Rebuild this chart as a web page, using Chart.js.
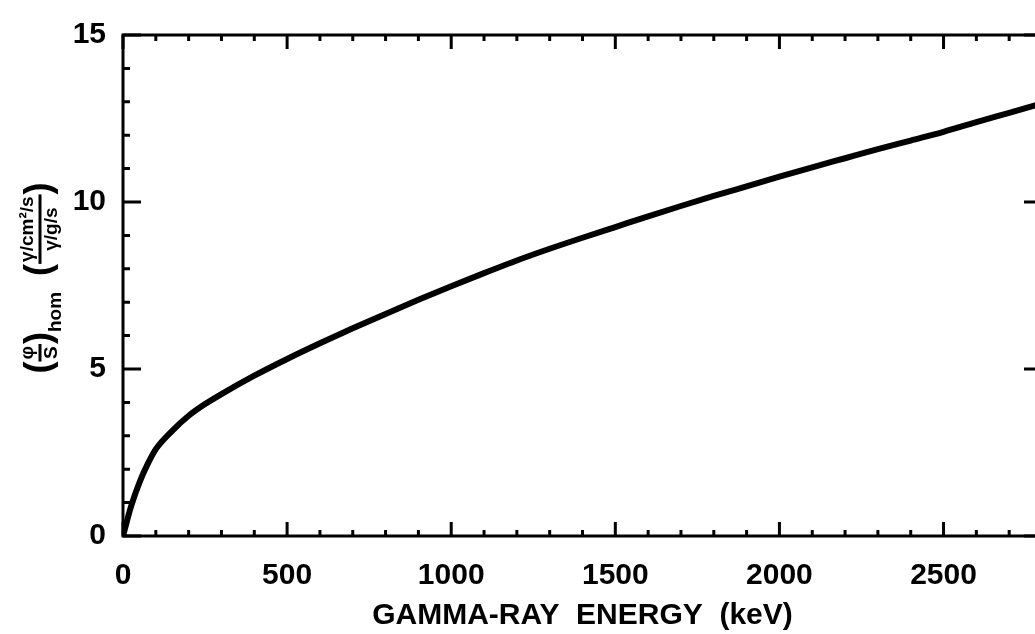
<!DOCTYPE html>
<html>
<head>
    <title>Gamma-ray energy</title>
    <script src="https://cdn.jsdelivr.net/npm/chart.js"></script>
    <style>
        html, body {
            margin: 0;
            padding: 0;
            background: #fff;
            overflow: hidden;
        }
        .chart-container {
            width: 1050px;
            height: 634px;
        }
    </style>
</head>
<body>
    <div class="chart-container">
        <canvas id="fluxChart"></canvas>
    </div>

    <script>
        // data
        const energy = [0, 25, 50, 75, 100, 150, 200, 250, 300, 400, 500, 600, 700, 800, 900,
            1000, 1100, 1200, 1300, 1400, 1500, 1600, 1700, 1800, 1900, 2000,
            2100, 2200, 2300, 2400, 2500, 2600, 2700, 2800];
        const flux = [0, 0.9, 1.6, 2.15, 2.6, 3.15, 3.6, 3.95, 4.25, 4.8, 5.3, 5.77, 6.22, 6.65, 7.07,
            7.48, 7.87, 8.25, 8.6, 8.93, 9.25, 9.57, 9.88, 10.18, 10.47, 10.76,
            11.04, 11.31, 11.58, 11.84, 12.1, 12.39, 12.67, 12.95];

        const xTicks = [0, 500, 1000, 1500, 2000, 2500];
        const yTicks = [0, 5, 10, 15];
        const xMinorStep = 100;
        const yMinorStep = 1;

        const FONT = "'Liberation Sans', Arial, sans-serif";

        // frame + inward ticks on all four sides
        const framePlugin = {
            id: 'frame',
            afterDatasetsDraw(chart) {
                const ctx = chart.ctx;
                const a = chart.chartArea;
                const xs = chart.scales.x, ys = chart.scales.y;
                ctx.save();
                ctx.strokeStyle = '#000';
                ctx.lineWidth = 3;
                ctx.lineCap = 'butt';
                ctx.strokeRect(a.left, a.top, a.right - a.left, a.bottom - a.top);

                ctx.beginPath();
                for (let v = xs.min; v <= xs.max; v += xMinorStep) {
                    const px = xs.getPixelForValue(v);
                    const len = xTicks.includes(v) ? 14 : 6;
                    ctx.moveTo(px, a.bottom); ctx.lineTo(px, a.bottom - len);
                    ctx.moveTo(px, a.top); ctx.lineTo(px, a.top + len);
                }
                for (let v = ys.min; v <= ys.max; v += yMinorStep) {
                    const py = ys.getPixelForValue(v);
                    const len = yTicks.includes(v) ? 18 : 7;
                    ctx.moveTo(a.left, py); ctx.lineTo(a.left + len, py);
                    ctx.moveTo(a.right, py); ctx.lineTo(a.right - len, py);
                }
                ctx.stroke();
                ctx.restore();
            }
        };

        // rotated y title with stacked fractions
        const yTitlePlugin = {
            id: 'yTitle',
            afterDraw(chart) {
                const ctx = chart.ctx;
                const cx = 40, cy = 278;
                const big = 'bold 36px ' + FONT;
                const small = 'bold 19px ' + FONT;
                const parts = [
                    { t: '(', f: big },
                    { num: 'φ', den: 'S', f: small },
                    { t: ')', f: big },
                    { t: 'hom', f: small, v: 16 },
                    { gap: 16 },
                    { t: '(', f: big },
                    { num: 'γ/cm²/s', den: 'γ/g/s', f: small },
                    { t: ')', f: big }
                ];
                ctx.save();
                ctx.fillStyle = '#000';
                ctx.strokeStyle = '#000';
                ctx.textBaseline = 'middle';
                ctx.textAlign = 'left';
                let total = 0;
                parts.forEach(p => {
                    if (p.gap) { p.w = p.gap; }
                    else if (p.num) {
                        ctx.font = p.f;
                        p.w = Math.max(ctx.measureText(p.num).width, ctx.measureText(p.den).width) + 4;
                    } else {
                        ctx.font = p.f;
                        p.w = ctx.measureText(p.t).width;
                    }
                    total += p.w;
                });
                ctx.translate(cx, cy);
                ctx.rotate(-Math.PI / 2);
                let u = -total / 2;
                parts.forEach(p => {
                    if (p.num) {
                        ctx.font = p.f;
                        ctx.textAlign = 'center';
                        ctx.fillText(p.num, u + p.w / 2, -12);
                        ctx.fillText(p.den, u + p.w / 2, 12);
                        ctx.lineWidth = 3;
                        ctx.beginPath();
                        ctx.moveTo(u, 0); ctx.lineTo(u + p.w, 0);
                        ctx.stroke();
                        ctx.textAlign = 'left';
                    } else if (p.t) {
                        ctx.font = p.f;
                        ctx.fillText(p.t, u, p.v || 0);
                    }
                    u += p.w;
                });
                ctx.restore();
            }
        };

        const ctx = document.getElementById('fluxChart').getContext('2d');
        new Chart(ctx, {
            type: 'scatter',
            data: {
                datasets: [{
                    data: energy.map((e, i) => ({ x: e, y: flux[i] })),
                    showLine: true,
                    borderColor: '#000',
                    borderWidth: 6,
                    pointRadius: 0,
                    cubicInterpolationMode: 'monotone',
                    fill: false
                }]
            },
            options: {
                responsive: true,
                maintainAspectRatio: false,
                animation: false,
                layout: { padding: { left: 0, top: 32, right: 8, bottom: 0 } },
                plugins: {
                    legend: { display: false },
                    tooltip: { enabled: false }
                },
                scales: {
                    x: {
                        type: 'linear',
                        min: 0,
                        max: 2800,
                        afterBuildTicks: s => { s.ticks = xTicks.map(v => ({ value: v })); },
                        afterFit: s => { s.height = 98; },
                        grid: { display: false, drawTicks: false },
                        border: { display: false },
                        ticks: {
                            color: '#000',
                            padding: 22,
                            maxRotation: 0,
                            callback: v => String(v),
                            font: { family: FONT, size: 30, weight: 'bold' }
                        },
                        title: {
                            display: true,
                            text: 'GAMMA-RAY  ENERGY  (keV)',
                            color: '#000',
                            padding: { top: 0, bottom: 0 },
                            font: { family: FONT, size: 30, weight: 'bold' }
                        }
                    },
                    y: {
                        min: 0,
                        max: 15,
                        afterBuildTicks: s => { s.ticks = yTicks.map(v => ({ value: v })); },
                        afterFit: s => { s.width = 123; },
                        grid: { display: false, drawTicks: false },
                        border: { display: false },
                        ticks: {
                            color: '#000',
                            padding: 17,
                            callback: v => String(v),
                            font: { family: FONT, size: 30, weight: 'bold' }
                        }
                    }
                }
            },
            plugins: [framePlugin, yTitlePlugin]
        });
    </script>
</body>
</html>
